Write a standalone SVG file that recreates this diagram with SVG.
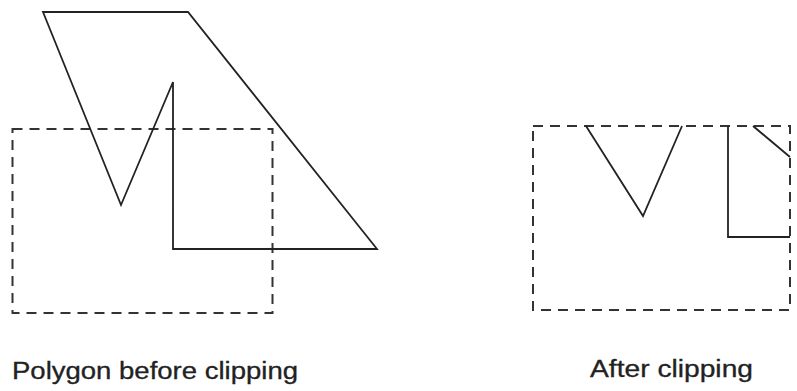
<svg xmlns="http://www.w3.org/2000/svg" width="797" height="391" viewBox="0 0 797 391">
<style>
.clip{fill:none;stroke:#333;stroke-width:2;stroke-dasharray:10 7}
.poly{fill:none;stroke:#222;stroke-width:1.8;stroke-linejoin:miter}
.lbl{font-family:"Liberation Sans",Arial,sans-serif;font-size:23px;fill:#222;stroke:#222;stroke-width:0.3}
</style>
<rect width="797" height="391" fill="#fff"/>
<g id="before">
<rect class="clip" x="12.5" y="129" width="260" height="184"/>
<polygon class="poly" points="43,12 188,12 377,249 173,249 173,82 121,205"/>
</g>
<g id="after">
<rect class="clip" x="533" y="126" width="257" height="184"/>
<polyline class="poly" points="586,126 643,216 682,126"/>
<polyline class="poly" points="790,237 728,237 728,126"/>
<line class="poly" x1="753" y1="126" x2="790" y2="157"/>
</g>
<text class="lbl" x="12" y="379" textLength="286" lengthAdjust="spacingAndGlyphs">Polygon before clipping</text>
<text class="lbl" x="590" y="377" textLength="163" lengthAdjust="spacingAndGlyphs">After clipping</text>
</svg>
